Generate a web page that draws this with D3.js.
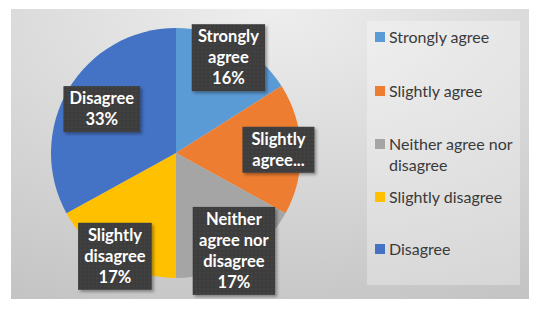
<!DOCTYPE html>
<html>
<head>
<meta charset="utf-8">
<script src="https://cdn.jsdelivr.net/npm/d3@7"></script>
<style>
    body { margin: 0; background: #fff; }
    svg { display: block; }
</style>
</head>
<body>
<svg id="chart" width="540" height="309"></svg>
<script>
// data
const categories = ['Strongly agree', 'Slightly agree', 'Neither agree nor disagree', 'Slightly disagree', 'Disagree'];
const values = [16, 17, 17, 17, 33];
const labelText = [
    ['Strongly', 'agree', '16%'],
    ['Slightly', 'agree...'],
    ['Neither', 'agree nor', 'disagree', '17%'],
    ['Slightly', 'disagree', '17%'],
    ['Disagree', '33%']
];
const legendText = [
    ['Strongly agree'],
    ['Slightly agree'],
    ['Neither agree nor', 'disagree'],
    ['Slightly disagree'],
    ['Disagree']
];

// layout
const colors = ['#5B9BD5', '#ED7D31', '#A5A5A5', '#FFC000', '#4472C4'];
const labelRadius = [0.87, 0.82, 0.91, 0.96, 0.69];
const legendRows = [37, 91, 144, 197, 249];

const svg = d3.select('#chart');
const defs = svg.append('defs');

const bg = defs.append('radialGradient')
    .attr('id', 'bg')
    .attr('cx', '50%').attr('cy', '0%').attr('r', '110%')
    .attr('gradientUnits', 'objectBoundingBox');
bg.append('stop').attr('offset', '0%').attr('stop-color', '#eeeeee');
bg.append('stop').attr('offset', '100%').attr('stop-color', '#c4c4c4');

const dots = defs.append('pattern')
    .attr('id', 'dots')
    .attr('width', 4).attr('height', 4)
    .attr('patternUnits', 'userSpaceOnUse');
dots.append('rect').attr('width', 4).attr('height', 4).attr('fill', '#3c3c3c');
dots.append('circle').attr('cx', 2).attr('cy', 2).attr('r', 0.8).attr('fill', '#4e4e4e');

const shadow = defs.append('filter').attr('id', 'shadow')
    .attr('x', '-20%').attr('y', '-20%').attr('width', '150%').attr('height', '150%');
shadow.append('feDropShadow')
    .attr('dx', 2).attr('dy', 2).attr('stdDeviation', 1.5)
    .attr('flood-color', '#000').attr('flood-opacity', 0.35);

svg.append('rect')
    .attr('x', 11).attr('y', 9)
    .attr('width', 518).attr('height', 290)
    .attr('fill', 'url(#bg)');

// pie
const cx = 176, cy = 153, radius = 125;
const pie = d3.pie().sort(null).value(d => d);
const arcs = pie(values);
const arc = d3.arc().innerRadius(0).outerRadius(radius);

const chart = svg.append('g').attr('transform', 'translate(' + cx + ',' + cy + ')');

chart.selectAll('path.slice')
    .data(arcs)
    .enter().append('path')
    .attr('class', 'slice')
    .attr('d', arc)
    .attr('fill', (d, i) => colors[i]);

// data labels
const lineH = 21;
const labels = chart.selectAll('g.label')
    .data(arcs)
    .enter().append('g')
    .attr('class', 'label')
    .attr('transform', (d, i) => {
        const a = (d.startAngle + d.endAngle) / 2;
        const r = radius * labelRadius[i];
        return 'translate(' + (r * Math.sin(a)) + ',' + (-r * Math.cos(a)) + ')';
    });

labels.each(function (d, i) {
    const g = d3.select(this);
    const lines = labelText[i];
    const box = g.append('rect').attr('fill', 'url(#dots)').attr('filter', 'url(#shadow)');
    const text = g.append('text')
        .attr('text-anchor', 'middle')
        .attr('fill', '#fff')
        .style('font-family', 'Lato, "Open Sans", sans-serif')
        .style('font-weight', 'bold')
        .style('font-size', '16.5px');
    const top = -lines.length * lineH / 2;
    lines.forEach((l, j) => {
        text.append('tspan')
            .attr('x', 0)
            .attr('y', top + j * lineH + lineH / 2)
            .attr('dy', '0.35em')
            .text(l);
    });
    const w = Math.max(text.node().getBBox().width + 12, 72);
    const h = lines.length * lineH + 4;
    box.attr('x', -w / 2).attr('y', -h / 2).attr('width', w).attr('height', h);
});

// legend
const legend = svg.append('g');
legend.append('rect')
    .attr('x', 367).attr('y', 21)
    .attr('width', 153).attr('height', 264)
    .attr('fill', '#fff').attr('fill-opacity', 0.3);

const items = legend.selectAll('g.item')
    .data(categories)
    .enter().append('g')
    .attr('class', 'item')
    .attr('transform', (d, i) => 'translate(375,' + legendRows[i] + ')');

items.append('rect')
    .attr('x', 0).attr('y', -5)
    .attr('width', 10).attr('height', 10)
    .attr('fill', (d, i) => colors[i]);

items.append('text')
    .attr('fill', '#3a3a3a')
    .style('font-family', 'Lato, "Open Sans", sans-serif')
    .style('font-size', '16px')
    .each(function (d, i) {
        const t = d3.select(this);
        legendText[i].forEach((l, j) => {
            t.append('tspan')
                .attr('x', 14)
                .attr('y', j * 21)
                .attr('dy', '0.35em')
                .text(l);
        });
    });
</script>
</body>
</html>
